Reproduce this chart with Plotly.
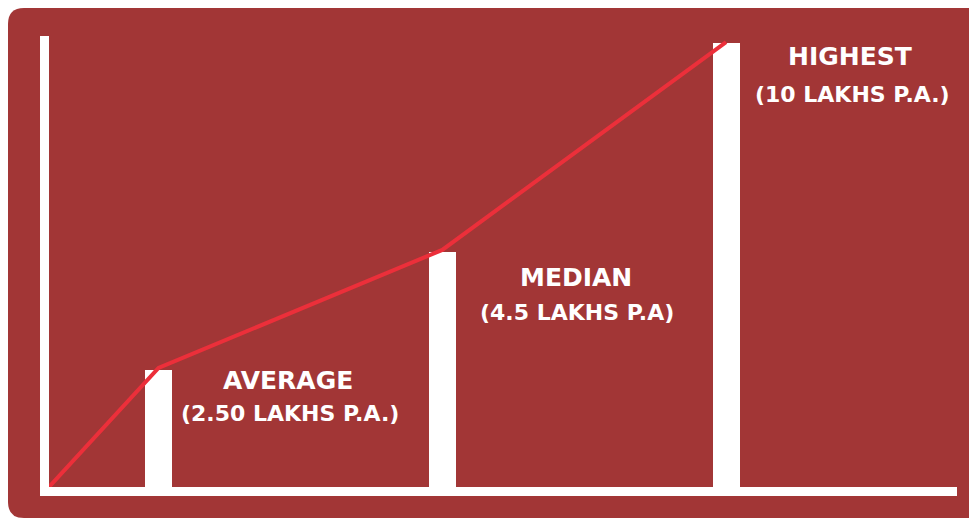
import plotly.graph_objects as go

# ---- data ----
categories = ["AVERAGE", "MEDIAN", "HIGHEST"]
salary_labels = ["(2.50 LAKHS P.A.)", "(4.5 LAKHS P.A)", "(10 LAKHS P.A.)"]
bar_x = [1, 2, 3]
bar_heights = [2.64, 5.29, 10.0]
trend_x = [0.614, 1.0, 2.0, 3.0]
trend_y = [0.0, 2.68, 5.34, 10.02]

BG = "#A23636"
LINE = "#EC2F3A"
# page body adds an 8px offset, so the figure covers the window from (8, 8)
W, H = 969, 512
ML, MR, MT, MB = 41, 20, 28, 33
X_RANGE = [0.614, 3.814]
Y_RANGE = [0, 10.158]

fig = go.Figure()
fig.add_trace(go.Bar(x=bar_x, y=bar_heights, width=0.095,
                     marker=dict(color="white", line=dict(width=0)),
                     hoverinfo="skip", showlegend=False))
fig.add_trace(go.Scatter(x=trend_x, y=trend_y, mode="lines",
                         line=dict(color=LINE, width=4),
                         hoverinfo="skip", showlegend=False))

# rounded background panel (paper coords computed from figure pixels)
pw, ph = W - ML - MR, H - MT - MB
def px(x):
    return (x - ML) / pw
def py(y):
    return (H - MB - y) / ph
l, t, r, b, rad = 0, 0, 1000, 510, 16
path = (f"M {px(l+rad)},{py(t)} L {px(r)},{py(t)} L {px(r)},{py(b)} "
        f"L {px(l+rad)},{py(b)} Q {px(l)},{py(b)} {px(l)},{py(b-rad)} "
        f"L {px(l)},{py(t+rad)} Q {px(l)},{py(t)} {px(l+rad)},{py(t)} Z")
fig.add_shape(type="path", path=path, xref="paper", yref="paper",
              fillcolor=BG, line=dict(width=0), layer="below")

# labels
label_dx = [0.458, 0.473, 0.437]
label_dx2 = [0.465, 0.476, 0.447]
title_y = [2.39, 4.73, 9.70]
sub_y = [1.66, 3.92, 8.84]
for i, cat in enumerate(categories):
    fig.add_annotation(x=bar_x[i] + label_dx[i], y=title_y[i], text=cat,
                       showarrow=False, xanchor="center", yanchor="middle",
                       font=dict(family="DejaVu Sans", size=25, color="white", weight="bold"))
    fig.add_annotation(x=bar_x[i] + label_dx2[i], y=sub_y[i], text=salary_labels[i],
                       showarrow=False, xanchor="center", yanchor="middle",
                       font=dict(family="DejaVu Sans", size=22, color="white", weight="bold"))

axis_common = dict(showgrid=False, zeroline=False, showticklabels=False, ticks="",
                   showline=True, linecolor="white", linewidth=9, fixedrange=True)
fig.update_layout(
    width=W, height=H,
    margin=dict(l=ML, r=MR, t=MT, b=MB, pad=0),
    paper_bgcolor="white", plot_bgcolor="rgba(0,0,0,0)",
    xaxis=dict(range=X_RANGE, **axis_common),
    yaxis=dict(range=Y_RANGE, **axis_common),
    bargap=0,
)
fig.write_html("out.html")
